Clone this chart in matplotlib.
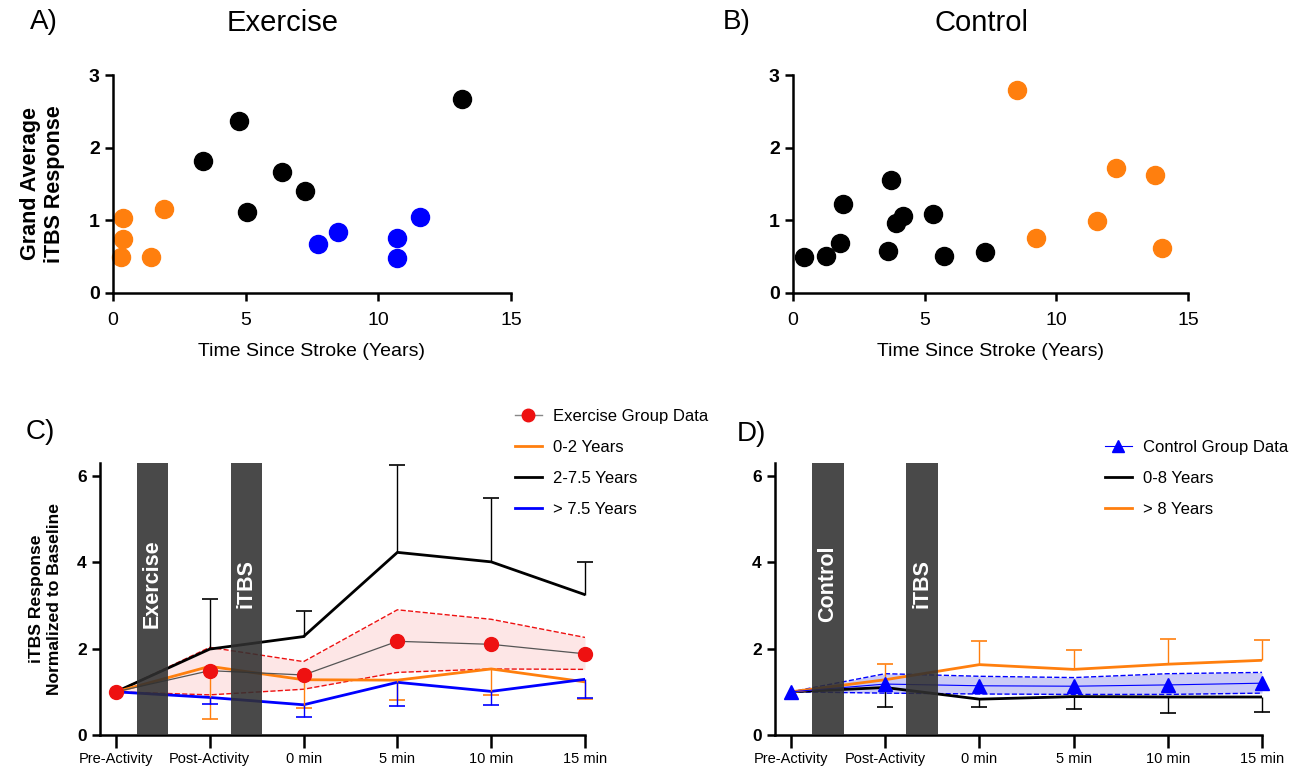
import matplotlib.pyplot as plt
import numpy as np
from matplotlib.lines import Line2D

plt.rcParams['font.family'] = ['Liberation Sans', 'DejaVu Sans']

# A) exercise group: time since stroke vs grand average iTBS response
ex_yrs_02 = [0.38, 0.38, 0.31, 1.45, 1.94]
ex_resp_02 = [1.03, 0.74, 0.49, 0.50, 1.15]
ex_yrs_275 = [3.41, 4.75, 5.06, 6.36, 7.22, 13.17]
ex_resp_275 = [1.82, 2.37, 1.12, 1.66, 1.41, 2.67]
ex_yrs_75 = [7.72, 8.47, 10.71, 10.72, 11.57]
ex_resp_75 = [0.68, 0.84, 0.48, 0.76, 1.04]

# B) control group
ct_yrs_08 = [0.43, 1.27, 1.79, 1.88, 3.61, 3.72, 3.90, 4.17, 5.32, 5.72, 7.30]
ct_resp_08 = [0.50, 0.51, 0.69, 1.23, 0.58, 1.56, 0.96, 1.06, 1.09, 0.51, 0.57]
ct_yrs_8 = [8.51, 9.21, 11.56, 12.25, 13.73, 14.03]
ct_resp_8 = [2.79, 0.76, 0.99, 1.72, 1.62, 0.62]

# C) / D) time course
timepoints = ['Pre-Activity', 'Post-Activity', '0 min', '5 min', '10 min', '15 min']

ex_mean = [1.0, 1.49, 1.39, 2.17, 2.10, 1.88]
ex_upper = [1.0, 2.03, 1.70, 2.90, 2.68, 2.26]
ex_lower = [1.0, 0.93, 1.06, 1.45, 1.53, 1.52]
ex_02 = [1.0, 1.59, 1.28, 1.27, 1.53, 1.23]
ex_02_err = [0.0, 1.23, 0.66, 0.46, 0.61, 0.40]   # drawn downwards
ex_275 = [1.0, 1.99, 2.28, 4.23, 4.01, 3.25]
ex_275_err = [0.0, 1.15, 0.59, 2.03, 1.47, 0.75]  # drawn upwards
ex_75 = [1.0, 0.87, 0.70, 1.22, 1.01, 1.29]
ex_75_err = [0.0, 0.15, 0.28, 0.55, 0.31, 0.43]   # drawn downwards

ct_mean = [1.0, 1.18, 1.14, 1.13, 1.16, 1.20]
ct_upper = [1.0, 1.42, 1.36, 1.33, 1.42, 1.45]
ct_lower = [1.0, 0.97, 0.95, 0.94, 0.94, 0.97]
ct_08 = [1.0, 1.10, 0.83, 0.89, 0.88, 0.88]
ct_08_err = [0.0, 0.45, 0.17, 0.28, 0.37, 0.35]   # downwards
ct_8 = [1.0, 1.28, 1.63, 1.52, 1.64, 1.73]
ct_8_err = [0.0, 0.36, 0.55, 0.44, 0.58, 0.46]    # upwards

ORANGE = '#ff7f0e'
BLUE = '#0000ff'
RED = '#ee1111'
BAR = '#303030'

W, H = 1306, 773
fig = plt.figure(figsize=(W / 100, H / 100), dpi=100)


def px_axes(l, t, r, b):
    return fig.add_axes([l / W, 1 - b / H, (r - l) / W, (b - t) / H])


def style_axes(ax):
    for s in ['top', 'right']:
        ax.spines[s].set_visible(False)
    for s in ['left', 'bottom']:
        ax.spines[s].set_linewidth(1.8)


def scatter_panel(ax, groups):
    style_axes(ax)
    for xs, ys, c in groups:
        ax.plot(xs, ys, 'o', color=c, markersize=13, clip_on=False)
    ax.set_xlim(0, 15)
    ax.set_ylim(0, 3)
    ax.set_xticks([0, 5, 10, 15])
    ax.set_yticks([0, 1, 2, 3])
    ax.tick_params(axis='both', direction='out', length=6, width=1.8)
    ax.tick_params(axis='x', labelsize=14, pad=8)
    ax.tick_params(axis='y', labelsize=14)
    for lab in ax.get_yticklabels():
        lab.set_fontweight('bold')
    ax.set_xlabel('Time Since Stroke (Years)', fontsize=14, labelpad=10)


axA = px_axes(113, 75, 511, 293)
scatter_panel(axA, [(ex_yrs_02, ex_resp_02, ORANGE),
                    (ex_yrs_275, ex_resp_275, 'black'),
                    (ex_yrs_75, ex_resp_75, BLUE)])
axA.set_ylabel('Grand Average\niTBS Response', fontsize=15.5, fontweight='bold',
               labelpad=17, linespacing=1.2)

axB = px_axes(793, 75, 1188, 293)
scatter_panel(axB, [(ct_yrs_08, ct_resp_08, 'black'),
                    (ct_yrs_8, ct_resp_8, ORANGE)])


def err_bars(ax, x, y, err, sign, color):
    x = np.asarray(x)[1:]
    y = np.asarray(y)[1:]
    end = y + sign * np.asarray(err)[1:]
    ax.vlines(x, y, end, color=color, lw=1.0, zorder=3, clip_on=False)
    ax.plot(x, end, linestyle='none', marker='_', markersize=12,
            markeredgewidth=1.2, color=color, zorder=3, clip_on=False)


def course_panel(ax, bar_labels):
    style_axes(ax)
    x = np.arange(len(timepoints))
    ax.set_xlim(-0.17, 5.0)
    ax.set_ylim(0, 6.3)
    ax.set_xticks(x)
    ax.set_xticklabels(timepoints, fontsize=10.5)
    ax.set_yticks([0, 2, 4, 6])
    ax.tick_params(axis='x', direction='out', length=9, width=1.8, pad=3)
    ax.tick_params(axis='y', direction='out', length=6, width=1.8, labelsize=12.5)
    for lab in ax.get_yticklabels():
        lab.set_fontweight('bold')
    # shaded intervention blocks between time points
    for i, txt in enumerate(bar_labels):
        ax.axvspan(i + 0.225, i + 0.56, color=BAR, alpha=0.88, lw=0, zorder=5)
        ax.text(i + 0.39, 3.5, txt, rotation=90, color='white', fontsize=15.5,
                fontweight='bold', ha='center', va='center', zorder=6)
    return x


axC = px_axes(100, 463, 585, 735)
x = course_panel(axC, ['Exercise', 'iTBS'])
axC.fill_between(x, ex_lower, ex_upper, color='#fde6e6', lw=0, zorder=1)
axC.plot(x, ex_upper, '--', color=RED, lw=1.0, zorder=2)
axC.plot(x, ex_lower, '--', color=RED, lw=1.0, zorder=2)
axC.plot(x, ex_275, color='black', lw=2.0, zorder=3)
axC.plot(x, ex_02, color=ORANGE, lw=2.0, zorder=3)
axC.plot(x, ex_75, color=BLUE, lw=2.0, zorder=3)
err_bars(axC, x, ex_275, ex_275_err, 1, 'black')
err_bars(axC, x, ex_02, ex_02_err, -1, ORANGE)
err_bars(axC, x, ex_75, ex_75_err, -1, BLUE)
axC.plot(x, ex_mean, color='#555555', lw=0.9, marker='o', markersize=10,
         mfc=RED, mec=RED, zorder=4, clip_on=False)
axC.set_ylabel('iTBS Response\nNormalized to Baseline', fontsize=12.6,
               fontweight='bold', labelpad=11, linespacing=1.25)
hC = [Line2D([], [], color='#888888', lw=1.0, marker='o', markersize=9,
             mfc=RED, mec=RED),
      Line2D([], [], color=ORANGE, lw=2.0),
      Line2D([], [], color='black', lw=2.0),
      Line2D([], [], color=BLUE, lw=2.0)]
fig.legend(hC, ['Exercise Group Data', '0-2 Years', '2-7.5 Years', '> 7.5 Years'],
           loc='upper left', bbox_to_anchor=(500 / W, 1 - 394 / H), frameon=False,
           fontsize=12, handlelength=1.6, labelspacing=0.95, handletextpad=0.7)

axD = px_axes(775, 463, 1262, 735)
x = course_panel(axD, ['Control', 'iTBS'])
axD.fill_between(x, ct_lower, ct_upper, color='#cbcbf7', lw=0, zorder=1)
axD.plot(x, ct_upper, '--', color=BLUE, lw=1.0, zorder=2)
axD.plot(x, ct_lower, '--', color=BLUE, lw=1.0, zorder=2)
axD.plot(x, ct_08, color='black', lw=2.0, zorder=3)
axD.plot(x, ct_8, color=ORANGE, lw=2.0, zorder=3)
err_bars(axD, x, ct_08, ct_08_err, -1, 'black')
err_bars(axD, x, ct_8, ct_8_err, 1, ORANGE)
axD.plot(x, ct_mean, color=BLUE, lw=0.8, marker='^', markersize=10,
         mfc=BLUE, mec=BLUE, zorder=4, clip_on=False)
hD = [Line2D([], [], color=BLUE, lw=0.8, marker='^', markersize=9,
             mfc=BLUE, mec=BLUE),
      Line2D([], [], color='black', lw=2.0),
      Line2D([], [], color=ORANGE, lw=2.0)]
fig.legend(hD, ['Control Group Data', '0-8 Years', '> 8 Years'],
           loc='upper left', bbox_to_anchor=(1090 / W, 1 - 425 / H), frameon=False,
           fontsize=12, handlelength=1.6, labelspacing=0.95, handletextpad=0.7)

# panel letters and titles
fig.text(30 / W, 1 - 22 / H, 'A)', fontsize=20, va='center')
fig.text(283 / W, 1 - 23 / H, 'Exercise', fontsize=21, va='center', ha='center')
fig.text(723 / W, 1 - 22 / H, 'B)', fontsize=20, va='center')
fig.text(982 / W, 1 - 23 / H, 'Control', fontsize=21, va='center', ha='center')
fig.text(26 / W, 1 - 432 / H, 'C)', fontsize=20, va='center')
fig.text(737 / W, 1 - 434 / H, 'D)', fontsize=20, va='center')

fig.savefig('out.png', dpi=100)
